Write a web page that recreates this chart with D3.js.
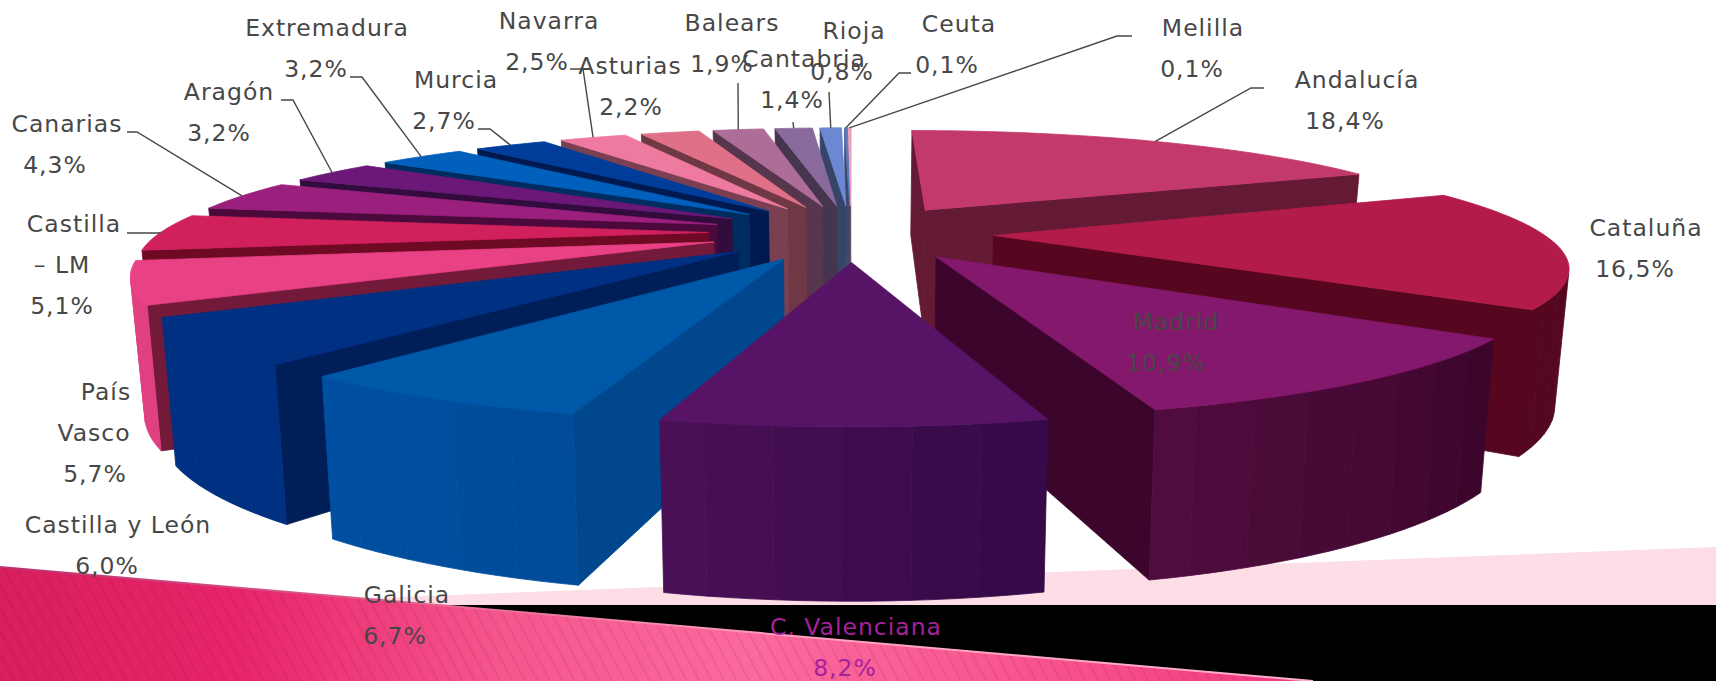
<!DOCTYPE html>
<html>
<head>
<meta charset="utf-8">
<style>
  html, body { margin: 0; padding: 0; background: #fff; overflow: hidden; }
  text { font-family: "DejaVu Sans", sans-serif; font-size: 23.5px; fill: #474747; letter-spacing: 1px; }
</style>
<script src="https://cdn.jsdelivr.net/npm/d3@7"></script>
</head>
<body>
<svg id="chart" width="1716" height="681"></svg>
<script>
// chart data, clockwise from the top
var regions = ["Andalucía", "Cataluña", "Madrid", "C. Valenciana", "Galicia", "Castilla y León", "País Vasco",
  "Castilla - LM", "Canarias", "Aragón", "Extremadura", "Murcia", "Navarra", "Asturias", "Balears", "Cantabria",
  "Rioja", "Ceuta", "Melilla"]
var shares = [18.4, 16.5, 10.9, 8.2, 6.7, 6.0, 5.7, 5.1, 4.3, 3.2, 3.2, 2.7, 2.5, 2.2, 1.9, 1.4, 0.8, 0.1, 0.1]
var valueLabels = ["18,4%", "16,5%", "10,9%", "8,2%", "6,7%", "6,0%", "5,7%", "5,1%", "4,3%", "3,2%", "3,2%",
  "2,7%", "2,5%", "2,2%", "1,9%", "1,4%", "0,8%", "0,1%", "0,1%"]

// colours per slice
var topColors = ["#c4396c", "#b31c4a", "#84186c", "#571466", "#0058a8", "#003082", "#e84184", "#d0215c", "#9b1f7d",
  "#6b1878", "#0060bc", "#003c9a", "#ee7aa0", "#e07088", "#ae6c98", "#8a6a9c", "#6c88d4", "#5a7ac0", "#f2a8bc"]
var sideColors = ["#641a34", "#56071f", "#3c062c", "#33093f", "#00478e", "#001e58", "#731a3a", "#6e0a24", "#4c0a3c",
  "#310c3c", "#002d60", "#00194e", "#7a4052", "#703844", "#55364c", "#45354e", "#364468", "#3c4a70", "#7a5060"]
var wallStart = ["#641a34", "#54071e", "#3c062c", "#360a48", "#004c9a", "#003082", "#e04080", "#cf215c", "#9b1f7d",
  "#6b1878", "#0060bc", "#003c9a", "#ee7aa0", "#e07088", "#ae6c98", "#8a6a9c", "#6c88d4", "#5a7ac0", "#f2a8bc"]
var wallEnd = ["#641a34", "#54071e", "#520d40", "#4c1158", "#0050a2", "#003082", "#e04080", "#cf215c", "#9b1f7d",
  "#6b1878", "#0060bc", "#003c9a", "#ee7aa0", "#e07088", "#ae6c98", "#8a6a9c", "#6c88d4", "#5a7ac0", "#f2a8bc"]

// label layout: text lines and where they go
var labelLines = [["Andalucía"], ["Cataluña"], ["Madrid"], ["C. Valenciana"], ["Galicia"], ["Castilla y León"],
  ["País", "Vasco"], ["Castilla", "– LM"], ["Canarias"], ["Aragón"], ["Extremadura"], ["Murcia"], ["Navarra"],
  ["Asturias"], ["Balears"], ["Cantabria"], ["Rioja"], ["Ceuta"], ["Melilla"]]
var labelNameX = [1357, 1646, 1176, 856, 407, 118, [106, 94], [74, 62], 67, 229, 327, 456, 549, 630, 732, 804, 854, 959, 1203]
var labelValueX = [1345, 1635, 1166, 845, 395, 107, 95, 62, 55, 219, 316, 444, 537, 631, 722, 792, 842, 947, 1192]
var labelTopY = [80, 228, 322, 627, 595, 525, 392, 224, 124, 92, 28, 80, 21, 66, 23, 59, 31, 24, 28]
var labelStep = 41
var leaderStarts = [[1264, 88, 1251], null, null, null, null, null, null, [127, 233, 159], [127, 132, 137], [281, 100, 293],
  [350, 77, 362], [478, 129, 490], [570, 69, 583], null, [738, 83, 738], [793, 122, 793], [829, 92, 829], [911, 73, 899], [1132, 36, 1117]]

// camera for the fake 3d pie
var cx = 851, cy = 232.5, scaleX = 548, scaleY = 108, persp = 0.238, perspX = 0.228, explode = 0.26
function project(X, Y) {
  return [cx + scaleX * X / (1 - perspX * Y), cy + scaleY * Y / (1 - persp * Y)]
}
// same point on the bottom face
function drop(p) {
  return [cx + 0.98 * (p[0] - cx), 1.236 * p[1] + 73.6]
}

var width = 1716, height = 681
var svg = d3.select("#chart")
var defs = svg.append("defs")

var grad = defs.append("linearGradient").attr("id", "band")
  .attr("gradientUnits", "userSpaceOnUse").attr("x1", 0).attr("x2", 1313).attr("y1", 0).attr("y2", 0)
grad.selectAll("stop").data([[0, "#d91f5c"], [0.18, "#e8246a"], [0.38, "#f5568e"], [0.57, "#fb6a9e"], [0.78, "#f8558f"], [1, "#f03a80"]])
  .enter().append("stop").attr("offset", function(d) { return d[0] }).attr("stop-color", function(d) { return d[1] })

var edgeGrad = defs.append("linearGradient").attr("id", "bandEdge")
  .attr("gradientUnits", "userSpaceOnUse").attr("x1", 0).attr("x2", 1313).attr("y1", 0).attr("y2", 0)
edgeGrad.selectAll("stop").data([[0, "#b8336f"], [0.3, "#e0608f"], [0.6, "#ffa0c0"], [1, "#ffb0cc"]])
  .enter().append("stop").attr("offset", function(d) { return d[0] }).attr("stop-color", function(d) { return d[1] })

var hatch = defs.append("pattern").attr("id", "hatch").attr("patternUnits", "userSpaceOnUse")
  .attr("width", 11).attr("height", 11).attr("patternTransform", "rotate(-28)")
hatch.append("rect").attr("width", 2).attr("height", 11).attr("fill", "#700030").attr("opacity", 0.09)

var polyLine = d3.line()

// slide background behind the chart
svg.append("rect").attr("x", 0).attr("y", 605).attr("width", width).attr("height", 76).attr("fill", "#000")
svg.append("path").attr("d", polyLine([[360, 598.4], [1716, 547], [1716, 605], [360, 605]]) + "Z").attr("fill", "#fddde6")
var wedge = [[0, 567], [1313, 681], [0, 681]]
svg.append("path").attr("d", polyLine(wedge) + "Z").attr("fill", "url(#band)")
svg.append("path").attr("d", polyLine(wedge) + "Z").attr("fill", "url(#hatch)")
svg.append("path").attr("d", polyLine(wedge.slice(0, 2))).attr("fill", "none").attr("stroke", "url(#bandEdge)").attr("stroke-width", 2)

// angles
var arcs = d3.pie().sort(null)(shares)

function sliceParts(d) {
  var mid = (d.startAngle + d.endAngle) / 2
  var ox = explode * Math.sin(mid), oy = -explode * Math.cos(mid)
  var steps = Math.max(2, Math.round((d.endAngle - d.startAngle) / 0.03))
  var rim = d3.range(steps + 1).map(function(i) {
    var a = d.startAngle + (d.endAngle - d.startAngle) * i / steps
    return project(ox + Math.sin(a), oy - Math.cos(a))
  })
  return { apex: project(ox, oy), rim: rim, rimMid: project(ox + Math.sin(mid), oy - Math.cos(mid)) }
}

function quad(a, b) { return [a, b, drop(b), drop(a)] }

function drawPoly(g, pts, color) {
  g.append("path").attr("d", polyLine(pts) + "Z").attr("fill", color).attr("stroke", color).attr("stroke-width", 0.8)
}

var order = d3.range(arcs.length).sort(function(a, b) {
  return d3.ascending(-Math.cos((arcs[a].startAngle + arcs[a].endAngle) / 2), -Math.cos((arcs[b].startAngle + arcs[b].endAngle) / 2))
})

var gSlices = svg.append("g")
var midPoints = []
var bandSize = 3

order.forEach(function(i) {
  var parts = sliceParts(arcs[i])
  var rim = parts.rim
  midPoints[i] = parts.rimMid
  var g = gSlices.append("g").attr("class", "slice")

  // the two cut faces, only when they look at the camera
  var startFace = quad(parts.apex, rim[0]), endFace = quad(rim[rim.length - 1], parts.apex)
  if (d3.polygonArea(startFace) > 0) drawPoly(g, startFace, sideColors[i])
  if (d3.polygonArea(endFace) > 0) drawPoly(g, endFace, sideColors[i])

  // outer wall goes in bands, a bit like the original shading
  var mix = d3.interpolateRgb(wallStart[i], wallEnd[i])
  var groups = d3.group(d3.range(rim.length - 1).filter(function(k) {
    return d3.polygonArea(quad(rim[k], rim[k + 1])) > 0
  }), function(k) { return Math.floor(k / bandSize) })
  groups.forEach(function(ks, band) {
    var front = ks.map(function(k) { return rim[k] }).concat([rim[ks[ks.length - 1] + 1]])
    var pts = front.concat(front.slice().reverse().map(drop))
    drawPoly(g, pts, mix(band * bandSize / Math.max(1, rim.length - 1)))
  })

  drawPoly(g, [parts.apex].concat(rim), topColors[i])
})

// leader lines
var gLeaders = svg.append("g")
leaderStarts.forEach(function(s, i) {
  if (!s) return
  var pts = [[s[0], s[1]], [s[2], s[1]], midPoints[i]]
  gLeaders.append("path").attr("d", polyLine(pts)).attr("fill", "none").attr("stroke", "#474747").attr("stroke-width", 1.4)
})

// labels
var gLabels = svg.append("g")
regions.forEach(function(name, i) {
  var color = i == 3 ? "#a6219c" : "#474747"
  var lines = labelLines[i]
  lines.forEach(function(line, j) {
    var x = Array.isArray(labelNameX[i]) ? labelNameX[i][j] : labelNameX[i]
    gLabels.append("text").attr("x", x).attr("y", labelTopY[i] + j * labelStep + 8)
      .attr("text-anchor", "middle").style("fill", color).text(line)
  })
  gLabels.append("text").attr("x", labelValueX[i]).attr("y", labelTopY[i] + lines.length * labelStep + 8)
    .attr("text-anchor", "middle").style("fill", color).text(valueLabels[i])
})
</script>
</body>
</html>
